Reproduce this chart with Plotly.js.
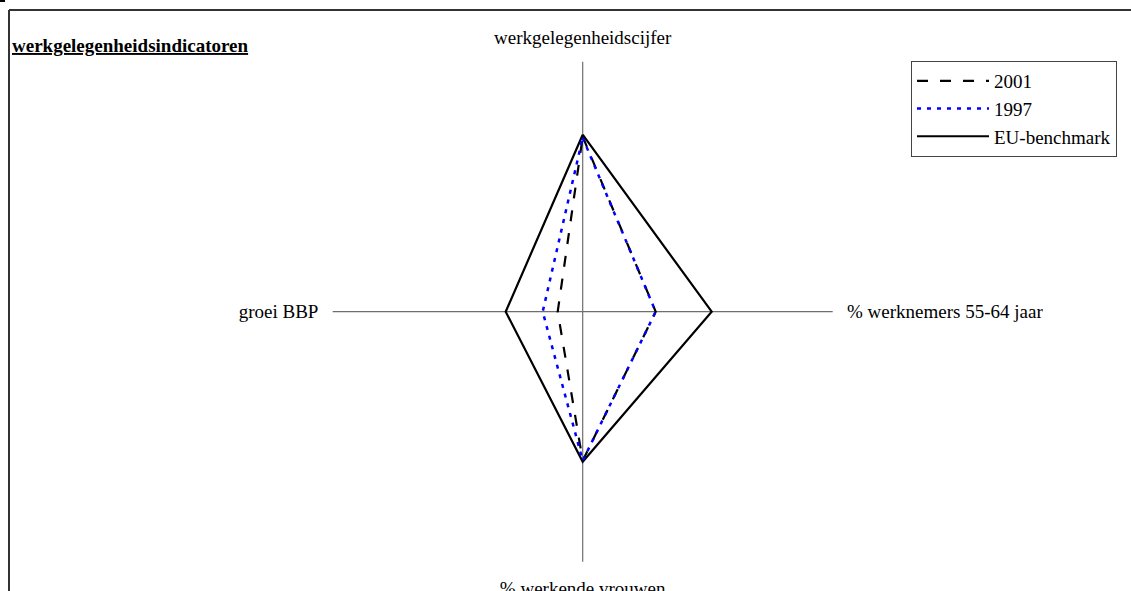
<!DOCTYPE html>
<html>
<head>
<meta charset="utf-8">
<script src="https://cdn.plot.ly/plotly-3.0.1.min.js"></script>
<style>html,body{margin:0;padding:0;background:#fff;}#chart{width:1131px;height:591px;}</style>
</head>
<body>
<div id="chart"></div>
<script>
// Axes (clockwise from top)
const categories = ["werkgelegenheidscijfer", "% werknemers 55-64 jaar", "% werkende vrouwen", "groei BBP"];
// Series values (radial scale 0-250)
const values2001 = [175, 73, 149, 25];
const values1997 = [174, 73, 149, 40];
const valuesEU = [177, 129, 150, 77];
const seriesNames = ["2001", "1997", "EU-benchmark"];
const chartTitle = "werkgelegenheidsindicatoren";

function closeLoop(a) { return a.concat([a[0]]); }

const FONT = "'Liberation Serif', 'DejaVu Serif', serif";
const W = 1131, H = 591;
const cx = 582.7, cy = 311.7, R = 250;

const traces = [
  {type: "scatterpolar", mode: "lines", name: seriesNames[2],
   r: closeLoop(valuesEU), theta: closeLoop(categories),
   line: {color: "#000000", width: 2.2}, legendrank: 3},
  {type: "scatterpolar", mode: "lines", name: seriesNames[0],
   r: closeLoop(values2001), theta: closeLoop(categories),
   line: {color: "#000000", width: 2.2, dash: "11px,12px"}, legendrank: 1},
  {type: "scatterpolar", mode: "lines", name: seriesNames[1],
   r: closeLoop(values1997), theta: closeLoop(categories),
   line: {color: "#0000FF", width: 2.5, dash: "4px,6px"}, legendrank: 2}
];

const layout = {
  width: W, height: H,
  margin: {l: 0, r: 0, t: 0, b: 0},
  paper_bgcolor: "#ffffff",
  font: {family: FONT, size: 19, color: "#000"},
  showlegend: true,
  legend: {
    x: 1117 / W, xanchor: "right",
    y: 1 - 61 / H, yanchor: "top",
    bgcolor: "#ffffff", bordercolor: "#444", borderwidth: 1,
    font: {family: FONT, size: 19, color: "#000"},
    itemwidth: 72
  },
  polar: {
    domain: {x: [(cx - R) / W, (cx + R) / W], y: [1 - (cy + R) / H, 1 - (cy - R) / H]},
    bgcolor: "rgba(0,0,0,0)",
    radialaxis: {visible: false, range: [0, 250]},
    angularaxis: {
      type: "category", categoryarray: categories,
      rotation: 90, direction: "clockwise",
      showline: false, showgrid: true, gridcolor: "#6e6e6e", gridwidth: 1.2,
      ticks: "outside", ticklen: 10, tickcolor: "rgba(0,0,0,0)",
      tickfont: {family: FONT, size: 19, color: "#000"}
    }
  },
  annotations: [{
    xref: "paper", yref: "paper", x: 10 / W, y: 1 - 45 / H,
    xanchor: "left", yanchor: "middle", showarrow: false,
    text: "<u><b>" + chartTitle + "</b></u>",
    font: {family: FONT, size: 19, color: "#000"}
  }],
  shapes: [
    {type: "line", xref: "paper", yref: "paper", x0: 9 / W, x1: 1, y0: 1 - 10 / H, y1: 1 - 10 / H, line: {color: "#333", width: 2}},
    {type: "line", xref: "paper", yref: "paper", x0: 9 / W, x1: 9 / W, y0: 1 - 10 / H, y1: 0, line: {color: "#333", width: 2}},
    {type: "rect", xref: "paper", yref: "paper", x0: 0, x1: 5 / W, y0: 1, y1: 1 - 2 / H, line: {width: 0}, fillcolor: "#000"}
  ]
};

Plotly.newPlot("chart", traces, layout, {displayModeBar: false, staticPlot: true});
</script>
</body>
</html>
